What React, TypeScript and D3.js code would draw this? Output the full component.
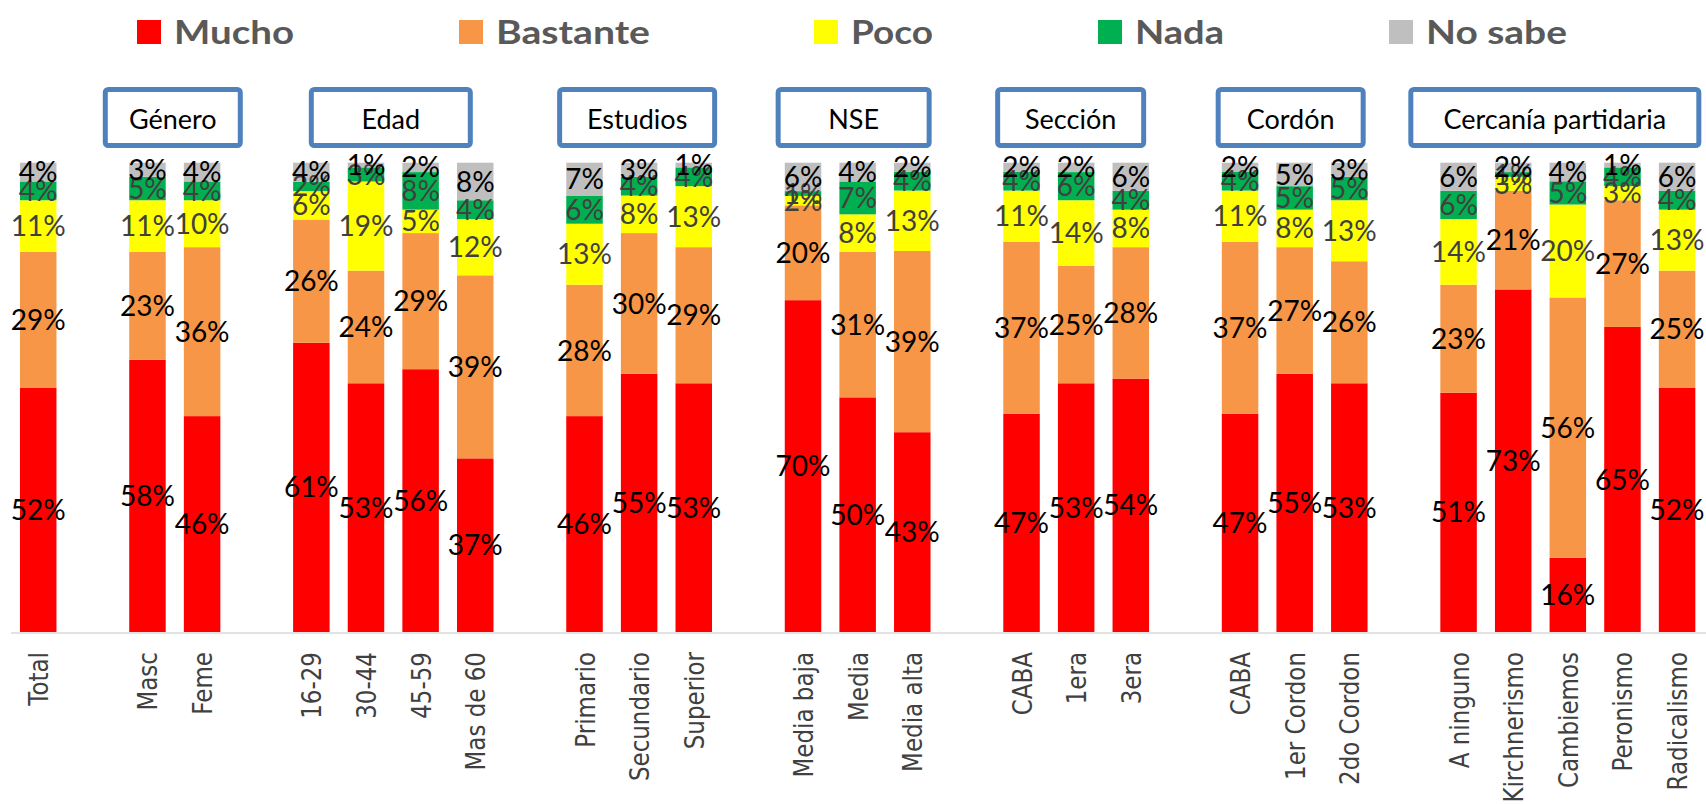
import React from "react";
import * as d3 from "d3";

// ---------- data ----------
const categories = [
  "Total",
  "Masc", "Feme",
  "16-29", "30-44", "45-59", "Mas de 60",
  "Primario", "Secundario", "Superior",
  "Media baja", "Media", "Media alta",
  "CABA", "1era", "3era",
  "CABA", "1er Cordon", "2do Cordon",
  "A ninguno", "Kirchnerismo", "Cambiemos", "Peronismo", "Radicalismo",
];
const groupLabels = ["", "Género", "Edad", "Estudios", "NSE", "Sección", "Cordón", "Cercanía partidaria"];
const groupSizes = [1, 2, 4, 3, 3, 3, 3, 5];

const seriesNames = ["Mucho", "Bastante", "Poco", "Nada", "No sabe"];
const mucho = [52, 58, 46, 61, 53, 56, 37, 46, 55, 53, 70, 50, 43, 47, 53, 54, 47, 55, 53, 51, 73, 16, 65, 52];
const bastante = [29, 23, 36, 26, 24, 29, 39, 28, 30, 29, 20, 31, 39, 37, 25, 28, 37, 27, 26, 23, 21, 56, 27, 25];
const poco = [11, 11, 10, 6, 19, 5, 12, 13, 8, 13, 2, 8, 13, 11, 14, 8, 11, 8, 13, 14, 3, 20, 3, 13];
const nada = [4, 5, 4, 2, 3, 8, 4, 6, 4, 4, 1, 7, 4, 4, 6, 4, 4, 5, 5, 6, 1, 5, 4, 4];
const noSabe = [4, 3, 4, 4, 1, 2, 8, 7, 3, 1, 6, 4, 2, 2, 2, 6, 2, 5, 3, 6, 2, 4, 1, 6];

// ---------- styles / layout ----------
const W = 1706;
const H = 804;
const colors = ["#FF0000", "#F79646", "#FFFF00", "#00B050", "#BFBFBF"];
const labelColors = ["#000000", "#000000", "#404040", "#404040", "#000000"];
const legendX = [137, 459, 814, 1098, 1389];
const legendTextW = [120, 154, 82, 89, 141];
const boxWidths = [0, 140, 164, 160, 156, 151, 150, 293];
const boxOffsets = [0, -2, -2.5, -2, -4, -5.5, -4, -13];

export default function App() {
  // slot assignment: groups separated by one empty slot
  const slotOf: number[] = [];
  const groupMembers: number[][] = [];
  let slot = 0;
  let ci = 0;
  groupSizes.forEach((n, gi) => {
    const members: number[] = [];
    for (let k = 0; k < n; k++) {
      slotOf.push(slot);
      members.push(ci);
      slot++;
      ci++;
    }
    groupMembers.push(members);
    if (gi < groupSizes.length - 1) slot++;
  });
  const nSlots = slot;

  const x = d3
    .scaleBand<number>()
    .domain(d3.range(nSlots))
    .range([10.9, 1704.4])
    .paddingInner(0.332)
    .paddingOuter(0.166);
  const y = d3.scaleLinear().domain([0, 1]).range([632, 162.7]);

  const rows = categories.map((c, i) => ({
    idx: i,
    Mucho: mucho[i],
    Bastante: bastante[i],
    Poco: poco[i],
    Nada: nada[i],
    "No sabe": noSabe[i],
  }));
  const stacked = d3
    .stack<any>()
    .keys(seriesNames)
    .offset(d3.stackOffsetExpand)(rows);

  const bw = x.bandwidth();
  const cx = (i: number) => (x(slotOf[i]) as number) + bw / 2;

  return (
    <svg
      width={W}
      height={H}
      viewBox={`0 0 ${W} ${H}`}
      style={{ position: "absolute", left: 0, top: 0, background: "#fff" }}
    >
      <rect x={0} y={0} width={W} height={H} fill="#fff" />
      {/* legend */}
      {seriesNames.map((s, i) => (
        <g key={s}>
          <rect x={legendX[i]} y={20} width={24} height={24} fill={colors[i]} />
          <text
            x={legendX[i] + 37}
            y={43.5}
            fontFamily="Lato, 'Open Sans', sans-serif"
            fontWeight={700}
            fontSize={33}
            fill="#595959"
            textLength={legendTextW[i]}
            lengthAdjust="spacingAndGlyphs"
          >
            {s}
          </text>
        </g>
      ))}
      {/* group boxes */}
      {groupMembers.map((m, gi) => {
        if (!groupLabels[gi]) return null;
        const c0 = cx(m[0]);
        const c1 = cx(m[m.length - 1]);
        const center = (c0 + c1) / 2 + boxOffsets[gi];
        const w = boxWidths[gi];
        return (
          <g key={gi}>
            <rect
              x={center - w / 2 + 2.5}
              y={89.5}
              width={w - 5}
              height={56}
              rx={3}
              fill="#fff"
              stroke="#4F81BD"
              strokeWidth={5}
            />
            <text
              x={center}
              y={129}
              textAnchor="middle"
              fontFamily="Lato, 'Open Sans', sans-serif"
              fontSize={27}
              fill="#000"
            >
              {groupLabels[gi]}
            </text>
          </g>
        );
      })}
      {/* bars */}
      {stacked.map((ser, si) => (
        <g key={ser.key} fill={colors[si]}>
          {ser.map((d: any, i: number) => (
            <rect
              key={i}
              x={x(slotOf[i])}
              y={y(d[1])}
              width={bw}
              height={y(d[0]) - y(d[1])}
            />
          ))}
        </g>
      ))}
      {/* axis line */}
      <line x1={11} x2={1706} y1={633} y2={633} stroke="#D9D9D9" strokeWidth={1.6} />
      {/* value labels */}
      {stacked.map((ser, si) => (
        <g key={ser.key + "l"}>
          {ser.map((d: any, i: number) => (
            <text
              key={i}
              x={cx(i)}
              y={(y(d[0]) + y(d[1])) / 2}
              dy="0.36em"
              textAnchor="middle"
              fontFamily="Lato, 'Open Sans', sans-serif"
              fontSize={28}
              fill={labelColors[si]}
            >
              {`${(d.data as any)[ser.key]}%`}
            </text>
          ))}
        </g>
      ))}
      {/* category labels */}
      {categories.map((c, i) => (
        <text
          key={i}
          transform={`translate(${cx(i) + 10},652) rotate(-90) scale(1,1.18)`}
          textAnchor="end"
          fontFamily="'DejaVu Sans', Verdana, sans-serif"
          fontSize={23}
          fill="#404040"
        >
          {c}
        </text>
      ))}
    </svg>
  );
}
